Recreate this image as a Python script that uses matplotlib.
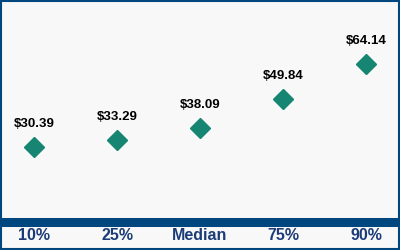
import matplotlib.pyplot as plt
from matplotlib.patches import Rectangle

categories = ["10%", "25%", "Median", "75%", "90%"]
values = [30.39, 33.29, 38.09, 49.84, 64.14]
labels = ["$30.39", "$33.29", "$38.09", "$49.84", "$64.14"]

navy = "#00467f"
teal = "#168672"

plt.rcParams["font.family"] = ["Liberation Sans", "DejaVu Sans"]

fig = plt.figure(figsize=(4, 2.5), dpi=100)
fig.patch.set_facecolor("#f8f8f8")
ax = fig.add_axes([0, 0.114, 1, 0.886])
ax.set_facecolor("#f8f8f8")

x = list(range(len(categories)))
ax.plot(x, values, linestyle="none", marker="D", markersize=10, color=teal)
for xi, v, lab in zip(x, values, labels):
    ax.annotate(lab, (xi, v), xytext=(0, 12), textcoords="offset points",
                ha="center", va="bottom", fontsize=9.5, fontweight="bold",
                color="black")

ax.axhline(0, color=navy, linewidth=6.5, clip_on=False)
ax.set_xlim(-0.41, 4.41)
ax.set_ylim(0, 90)
ax.set_yticks([])
ax.set_xticks(x)
ax.set_xticklabels(categories, fontsize=11.5, fontweight="bold", color="#1b3c78")
ax.tick_params(axis="x", length=0, pad=5)
for s in ax.spines.values():
    s.set_visible(False)

# outer frame
fig.patches.append(Rectangle((0.0025, 0.004), 0.995, 0.992, transform=fig.transFigure,
                             fill=False, edgecolor=navy, linewidth=1.5))

fig.savefig("out.png", dpi=100, facecolor=fig.get_facecolor())
